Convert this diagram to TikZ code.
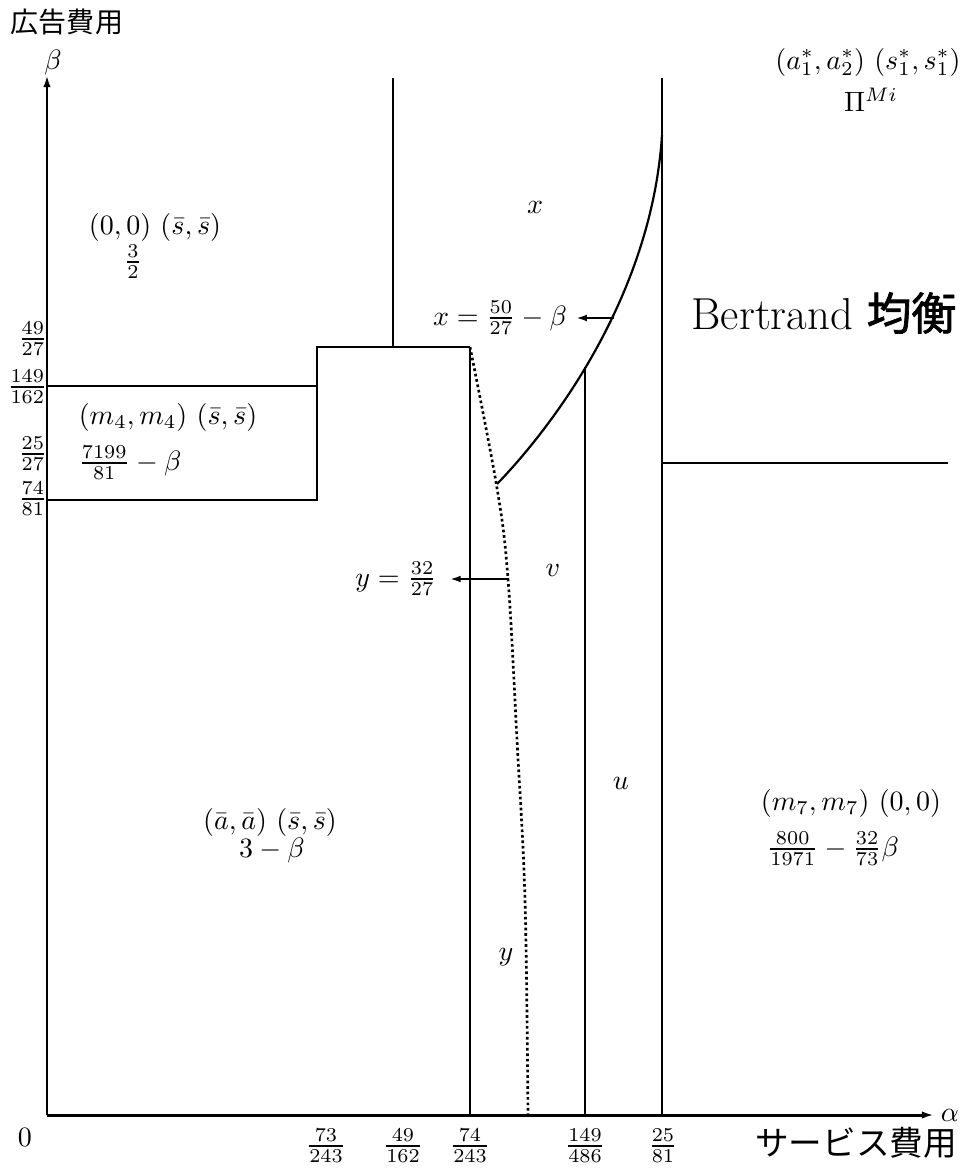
\documentclass[tikz,border=0pt]{standalone}
\usepackage{fontspec}
\newfontfamily\jp{Noto Sans CJK JP}
\newfontfamily\jpb{Noto Sans CJK JP}[FakeBold=1.5]
\usetikzlibrary{arrows.meta}
\begin{document}
\begin{tikzpicture}[x=0.357pt,y=-0.357pt,
  every node/.style={inner sep=0pt},
  axisln/.style={line width=1.07pt,-{Latex[length=4.3pt,width=2.6pt]}},
  boxln/.style={line width=1pt},
  thinln/.style={line width=0.78pt},
  curveln/.style={line width=0.78pt},
  dotln/.style={line width=0.95pt,densely dotted},
  arrln/.style={line width=1pt,-{Latex[length=4pt,width=2.4pt]}}]
\useasboundingbox (0,0) rectangle (967,1171);
% axes
\coordinate (O) at (47,1115);
\coordinate (Ytip) at (47,75);
\coordinate (Xtip) at (934,1115);
\draw[axisln] (O) -- (Ytip);
\draw[axisln] (O) -- (Xtip);
\node (beta) at (53,62) {$\beta$};
\node (alpha) at (950,1115) {$\alpha$};
\node (zero) at (25,1137) {$0$};
\node (ylabel) at (67,22) {\jp 広告費用};
\node (xlabel) at (856,1143) {\jp\large サービス費用};
% box
\coordinate (b1) at (47,386);
\coordinate (b2) at (317,386);
\coordinate (b3) at (47,500);
\coordinate (b4) at (317,500);
\coordinate (b5) at (317,347);
\coordinate (b6) at (470,347);
\draw[boxln] (b1) -- (b2);
\draw[boxln] (b3) -- (b4) -- (b5) -- (b6);
% verticals
\coordinate (v1t) at (393,78);
\coordinate (v1b) at (393,347);
\coordinate (v2t) at (662,78);
\coordinate (v2b) at (662,1115);
\coordinate (v3b) at (470,1115);
\coordinate (v4t) at (585,367);
\coordinate (v4b) at (585,1115);
\coordinate (h1a) at (662,463);
\coordinate (h1b) at (948,463);
\draw[thinln] (v1t) -- (v1b);
\draw[thinln] (v2t) -- (v2b);
\draw[thinln] (b6) -- (v3b);
\draw[thinln] (v4t) -- (v4b);
\draw[thinln] (h1a) -- (h1b);
% curves
\coordinate (c0) at (497,484);
\coordinate (c3) at (662,135);
\draw[curveln] (c0) .. controls (557,422) and (652,292) .. (c3);
\draw[dotln] plot[smooth,tension=0.6] coordinates {(470,347) (497,488) (508,579) (517,740) (525,900) (528,1115)};
% arrows with labels
\node (xlab) at (500,318) {$x=\frac{50}{27}-\beta$};
\coordinate (xa) at (614,318);
\draw[arrln,shorten >=2.9pt] (xa) -- (xlab.east);
\node (ylab) at (396,579) {$y=\frac{32}{27}$};
\coordinate (ya) at (509,579);
\draw[arrln,shorten >=4.4pt] (ya) -- (ylab.east);
% y ticks
\node[anchor=east] (t1) at (48,339) {$\frac{49}{27}$};
\node[anchor=east] (t2) at (48,387) {$\frac{149}{162}$};
\node[anchor=east] (t3) at (48,454) {$\frac{25}{27}$};
\node[anchor=east] (t4) at (48,499) {$\frac{74}{81}$};
% x ticks
\node (s1) at (326,1146) {$\frac{73}{243}$};
\node (s2) at (403,1146) {$\frac{49}{162}$};
\node (s3) at (470,1146) {$\frac{74}{243}$};
\node (s4) at (585,1146) {$\frac{149}{486}$};
\node (s5) at (663,1146) {$\frac{25}{81}$};
% region labels
\node (r1) at (155,227) {$(0,0)$ $(\bar{s},\bar{s})$};
\node (r1b) at (133,262) {$\frac{3}{2}$};
\node (rx) at (535,207) {$x$};
\node (bert) at (824,313) {\fontsize{16}{19}\selectfont Bertrand {\jpb 均衡}};
\node (r2) at (168,417) {$(m_4,m_4)$ $(\bar{s},\bar{s})$};
\node (r2b) at (130,463) {$\frac{7199}{81}-\beta$};
\node (rv) at (553,570) {$v$};
\node (ru) at (621,783) {$u$};
\node (r3) at (270,822) {$(\bar{a},\bar{a})$ $(\bar{s},\bar{s})$};
\node (r3b) at (272,850) {$3-\beta$};
\node (ry) at (506,957) {$y$};
\node (r4) at (851,803) {$(m_7,m_7)$ $(0,0)$};
\node (r4b) at (833,849) {$\frac{800}{1971}-\frac{32}{73}\beta$};
\node (r5) at (868,62) {$(a_1^*,a_2^*)$ $(s_1^*,s_1^*)$};
\node (r5b) at (871,100) {$\Pi^{Mi}$};
\end{tikzpicture}
\end{document}
